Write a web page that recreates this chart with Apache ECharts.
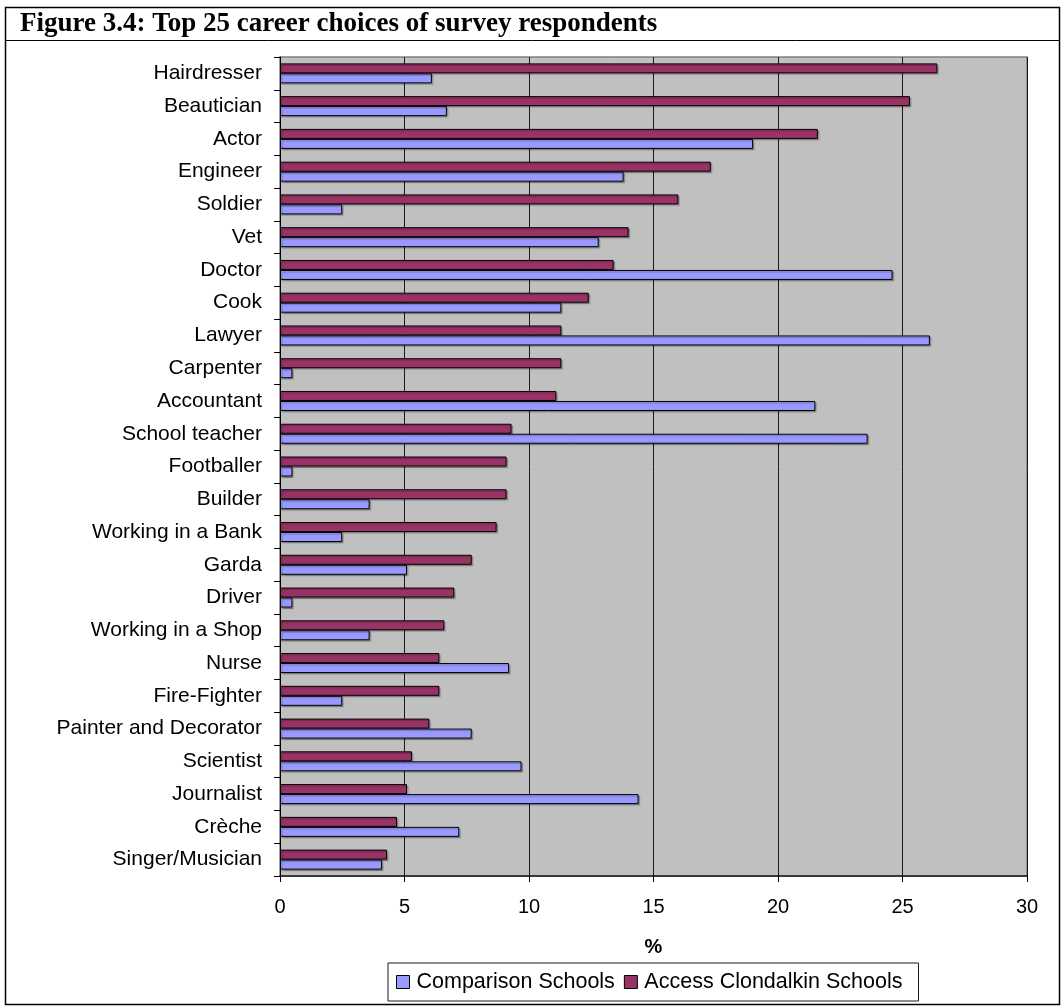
<!DOCTYPE html>
<html>
<head>
<meta charset="utf-8">
<title>Top 25 career choices of survey respondents</title>
<script src="https://cdn.jsdelivr.net/npm/echarts@6/dist/echarts.min.js"></script>
<style>
  html, body { margin: 0; padding: 0; background: #ffffff; }
  #chart { width: 1063px; height: 1007px; }
</style>
</head>
<body>
<div id="chart"></div>
<script>
// Career choices, listed top to bottom
const careers = [
  'Hairdresser', 'Beautician', 'Actor', 'Engineer', 'Soldier', 'Vet', 'Doctor',
  'Cook', 'Lawyer', 'Carpenter', 'Accountant', 'School teacher', 'Footballer',
  'Builder', 'Working in a Bank', 'Garda', 'Driver', 'Working in a Shop', 'Nurse',
  'Fire-Fighter', 'Painter and Decorator', 'Scientist', 'Journalist', 'Crèche',
  'Singer/Musician'
];

// Percentage of respondents choosing each career
const accessClondalkin = [
  26.4, 25.3, 21.6, 17.3, 16.0, 14.0, 13.4, 12.4, 11.3, 11.3, 11.1, 9.3, 9.1,
  9.1, 8.7, 7.7, 7.0, 6.6, 6.4, 6.4, 6.0, 5.3, 5.1, 4.7, 4.3
];
const comparison = [
  6.1, 6.7, 19.0, 13.8, 2.5, 12.8, 24.6, 11.3, 26.1, 0.5, 21.5, 23.6, 0.5,
  3.6, 2.5, 5.1, 0.5, 3.6, 9.2, 2.5, 7.7, 9.7, 14.4, 7.2, 4.1
];

const xTicks = { min: 0, max: 30, interval: 5 };

const W = 1063, H = 1007;
const chart = echarts.init(document.getElementById('chart'), null, { renderer: 'canvas' });

// Thin black outline with a faint drop shadow on every bar
const barStyle = {
  borderColor: '#000000',
  borderWidth: 1,
  shadowColor: 'rgba(0, 0, 0, 0.25)',
  shadowBlur: 1,
  shadowOffsetX: 1.5,
  shadowOffsetY: 1.5
};
const sans = '"Liberation Sans", Arial, sans-serif';

chart.setOption({
  backgroundColor: '#ffffff',
  animation: false,
  title: {
    text: 'Figure 3.4: Top 25 career choices of survey respondents',
    left: 20,
    top: 11,
    padding: 0,
    textStyle: {
      fontFamily: '"Liberation Serif", "Times New Roman", serif',
      fontWeight: 'bold',
      fontSize: 27,
      color: '#000000'
    }
  },
  graphic: [
    // outer frame
    {
      type: 'rect', silent: true, z: -1,
      shape: { x: 5.5, y: 7.5, width: W - 9, height: H - 10 },
      style: { fill: null, stroke: '#000000', lineWidth: 1.5 }
    },
    // rule under the heading
    {
      type: 'line', silent: true,
      shape: { x1: 5, y1: 40.5, x2: W - 3, y2: 40.5 },
      style: { stroke: '#000000', lineWidth: 1 }
    }
  ],
  legend: {
    data: ['Comparison Schools', 'Access Clondalkin Schools'],
    left: 388,
    top: 963,
    orient: 'horizontal',
    icon: 'rect',
    itemWidth: 13,
    itemHeight: 13,
    itemGap: 9,
    padding: [8, 16, 8, 8],
    backgroundColor: '#ffffff',
    borderColor: '#1a1a1a',
    borderWidth: 1,
    itemStyle: { borderColor: '#000000', borderWidth: 1, shadowBlur: 0, shadowOffsetX: 0, shadowOffsetY: 0 },
    textStyle: {
      fontFamily: sans,
      fontSize: 21.5,
      color: '#000000',
      padding: [0, 0, 0, 2]
    }
  },
  grid: {
    left: 280,
    right: W - 1027,
    top: 57,
    bottom: H - 876,
    show: true,
    backgroundColor: '#c0c0c0',
    borderColor: '#808080',
    borderWidth: 1.5
  },
  xAxis: {
    type: 'value',
    min: xTicks.min,
    max: xTicks.max,
    interval: xTicks.interval,
    name: '%',
    nameLocation: 'middle',
    nameGap: 61,
    nameTextStyle: {
      fontFamily: sans,
      fontWeight: 'bold',
      fontSize: 20,
      color: '#000000'
    },
    axisLine: { show: true, lineStyle: { color: '#1a1a1a', width: 1.5 } },
    axisTick: { show: true, length: 6, inside: false, lineStyle: { color: '#000000' } },
    axisLabel: {
      margin: 21,
      fontFamily: sans,
      fontSize: 20,
      color: '#000000'
    },
    splitLine: { show: true, lineStyle: { color: '#1a1a1a', width: 1 } }
  },
  yAxis: {
    type: 'category',
    data: careers,
    inverse: true,
    axisLine: { show: true, lineStyle: { color: '#000000', width: 1 } },
    axisTick: { show: true, length: 6, inside: false, lineStyle: { color: '#000000' } },
    axisLabel: {
      margin: 18,
      fontFamily: sans,
      fontSize: 21,
      color: '#000000'
    },
    splitLine: { show: false }
  },
  series: [
    {
      name: 'Access Clondalkin Schools',
      type: 'bar',
      data: accessClondalkin,
      barWidth: 10,
      barGap: '0%',
      itemStyle: Object.assign({ color: '#993366' }, barStyle)
    },
    {
      name: 'Comparison Schools',
      type: 'bar',
      data: comparison,
      barWidth: 10,
      barGap: '0%',
      itemStyle: Object.assign({ color: '#9999ff' }, barStyle)
    }
  ]
});
</script>
</body>
</html>
